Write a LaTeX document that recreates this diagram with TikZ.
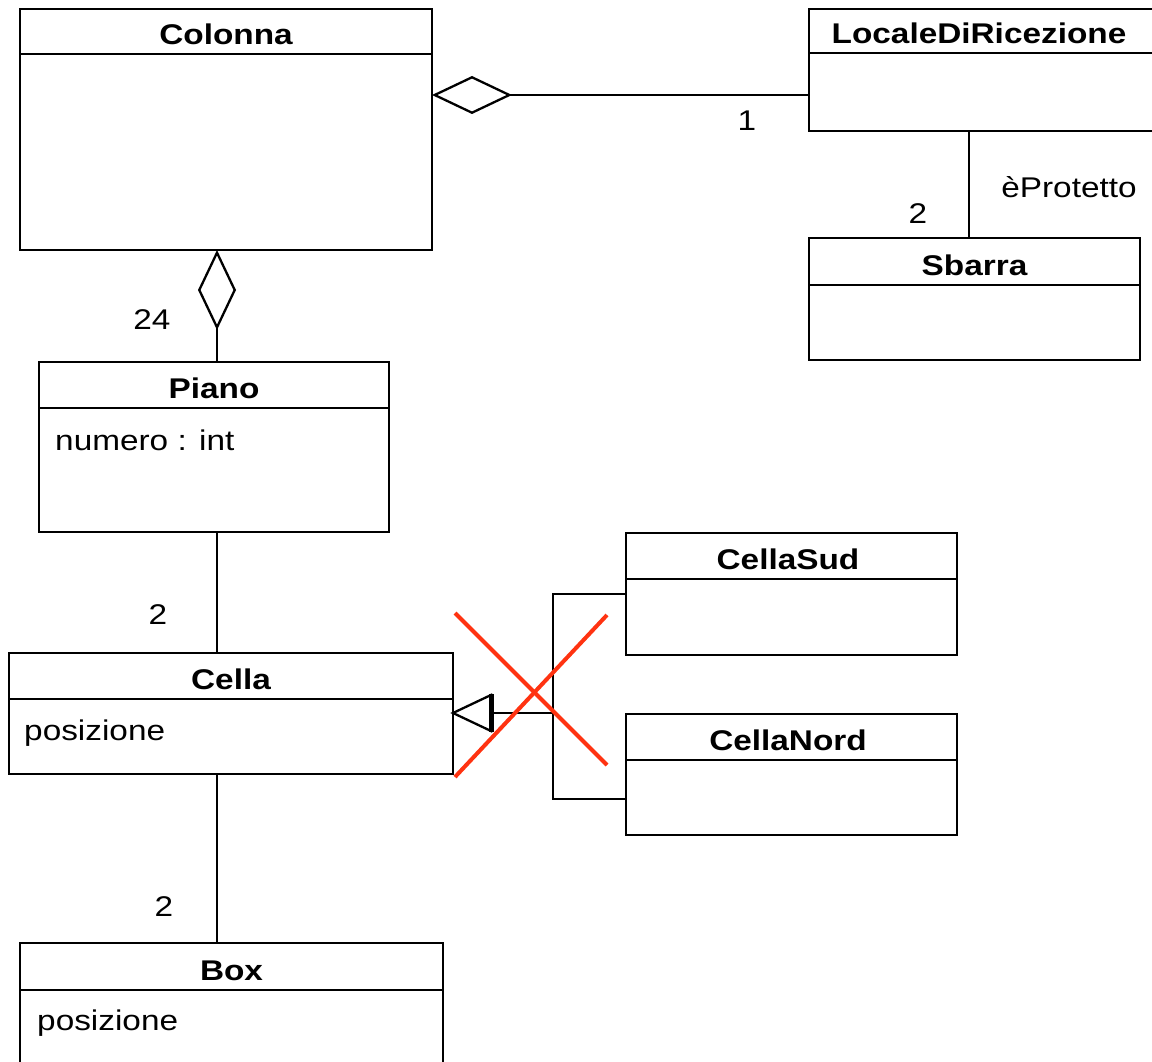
\documentclass[tikz,border=0pt]{standalone}
\usepackage{fontspec}
\setmainfont{Liberation Sans}
\usetikzlibrary{arrows.meta,calc}
\definecolor{xred}{HTML}{FF3311}
\newcommand\umlclass[8]{%
  \node[classbox, minimum width=#4pt, minimum height=#5pt] (#1) at (#2,#3) {};
  \coordinate (#1-sl) at ($(#1.north west)+(0,#6)$);
  \draw[line width=2.3pt] (#1-sl) -- (#1-sl -| #1.east);
  \node[ttl] (#1-t) at ($(#1-sl)+(#8-#2,-9.5)$) {#7};
}
\begin{document}
\begin{tikzpicture}[x=1pt,y=-1pt,
  classbox/.style={draw, line width=2.6pt, inner sep=0pt, outer sep=0pt, anchor=north west},
  ttl/.style={font=\fontsize{28.5}{32}\selectfont\bfseries, xscale=1.17, inner sep=0pt, anchor=base},
  attr/.style={font=\fontsize{28.5}{32}\selectfont, xscale=1.17, inner sep=0pt, anchor=base west},
  lbl/.style={font=\fontsize{28.5}{32}\selectfont, xscale=1.17, inner sep=0pt, anchor=base},
  conn/.style={line width=2.3pt},
  cross/.style={line width=4pt, draw=xred}]
\useasboundingbox (0,0) rectangle (1152,1062);
\clip (0,0) rectangle (1152,1062);

\umlclass{colonna}{20}{9}{412}{241}{45}{Colonna}{226}
\umlclass{locale}{809}{9}{370}{122}{44}{LocaleDiRicezione}{979}
\umlclass{sbarra}{809}{238}{331}{122}{47}{Sbarra}{974.5}
\umlclass{piano}{39}{362}{350}{170}{46}{Piano}{214}
\umlclass{cella}{9}{653}{444}{121}{46}{Cella}{231}
\umlclass{cellasud}{626}{533}{331}{122}{46}{CellaSud}{788}
\umlclass{cellanord}{626}{714}{331}{121}{46}{CellaNord}{788}
\umlclass{box}{20}{943}{423}{150}{47}{Box}{231.5}

\node[attr] (pianoattr) at (55,450) {numero : int};
\node[attr] (cellaattr) at (24,740) {posizione};
\node[attr] (boxattr) at (37,1030) {posizione};

% aggregation Colonna - LocaleDiRicezione
\coordinate (ya) at (0,95);
\draw[conn, {Diamond[open, length=80pt, width=38pt]}-] (colonna.east |- ya) -- (locale.west |- ya);
% aggregation Colonna - Piano
\coordinate (xv) at (217,0);
\draw[conn, {Diamond[open, length=80pt, width=38pt]}-] (colonna.south -| xv) -- (piano.north -| xv);
% Piano - Cella, Cella - Box
\draw[conn] (piano.south -| xv) -- (cella.north -| xv);
\draw[conn] (cella.south -| xv) -- (box.north -| xv);
% LocaleDiRicezione - Sbarra
\coordinate (xs) at (969,0);
\draw[conn] (locale.south -| xs) -- (sbarra.north -| xs);

% generalization
\coordinate (yg) at (0,713);
\coordinate (xj) at (553,0);
\coordinate (ys) at (0,594);
\coordinate (yn) at (0,799);
\coordinate (gtip) at (cella.east |- yg);
\draw[conn, line join=miter] (gtip) -- ++(38,-18) -- ++(0,36) -- cycle;
\draw[line width=5pt] ($(gtip)+(38,-19)$) -- ++(0,38);
\draw[conn] ($(gtip)+(38,0)$) -- (xj |- yg);
\draw[conn] (cellasud.west |- ys) -- (xj |- ys) -- (xj |- yn) -- (cellanord.west |- yn);

% red cross
\draw[cross] (455,613) -- (607,765);
\draw[cross] (607,615) -- (455,777);

% multiplicities and labels
\node[lbl] (m1) at (747,131) {1};
\node[lbl] (mprot) at (1069,197) {èProtetto};
\node[lbl] (m2a) at (918,223) {2};
\node[lbl] (m24) at (152,329) {24};
\node[lbl] (m2b) at (158,624) {2};
\node[lbl] (m2c) at (164,916) {2};
\end{tikzpicture}
\end{document}
